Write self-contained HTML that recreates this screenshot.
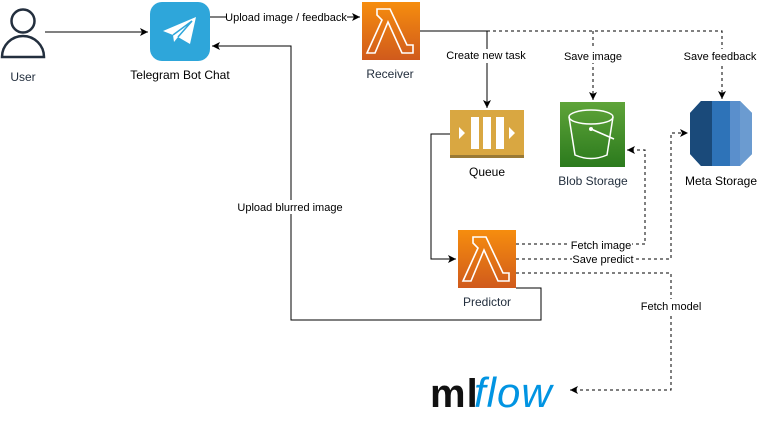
<!DOCTYPE html>
<html><head><meta charset="utf-8"><style>
html,body{margin:0;padding:0;background:#fff;}
svg{display:block;font-family:"Liberation Sans",sans-serif;}
</style></head><body>
<svg width="758" height="432" viewBox="0 0 758 432" xmlns="http://www.w3.org/2000/svg">
<defs>
<linearGradient id="lg" x1="0" y1="0" x2="0" y2="1"><stop offset="0" stop-color="#f68d0e"/><stop offset="1" stop-color="#d05a1c"/></linearGradient>
<linearGradient id="gg" x1="0" y1="0" x2="0" y2="1"><stop offset="0" stop-color="#5fa439"/><stop offset="1" stop-color="#2b7a1d"/></linearGradient>
<marker id="a" markerWidth="10" markerHeight="10" refX="8" refY="5" orient="auto" markerUnits="userSpaceOnUse"><path d="M0,1 L8,5 L0,9 L2,5 Z" fill="#000"/></marker>
<g id="lam">
<rect width="58" height="58" fill="url(#lg)"/>
<path d="M15,7 H28 L45,43 H51 V51 H40 L26,20 L13,51 H5 L20,18 L15,13 Z M15,7 V13" fill="none" stroke="#fff" stroke-width="1.6" stroke-linejoin="miter"/>
</g>
</defs>

<circle cx="23" cy="21" r="11.5" fill="none" stroke="#232f3e" stroke-width="2.5"/>
<path d="M2,57 A21,21 0 0 1 44,57 Z" fill="none" stroke="#232f3e" stroke-width="2.5"/>
<text x="23" y="81" font-size="12" fill="#232f3e" text-anchor="middle">User</text>

<rect x="150" y="2" width="60" height="59" rx="12" fill="#2ea6da"/>
<path d="M163,31 L196,17 L190,44 L178,37 L174,42 L173,35 Z" fill="#fff"/>
<path d="M173,35 L192,21 L178,37" fill="none" stroke="#2ea6da" stroke-width="1.5"/>
<text x="180" y="79" font-size="12" fill="#000" text-anchor="middle">Telegram Bot Chat</text>

<use href="#lam" x="362" y="2"/>
<text x="390" y="78" font-size="12" fill="#232f3e" text-anchor="middle">Receiver</text>

<rect x="450" y="110" width="74" height="48" fill="#d9a741"/>
<rect x="450" y="155" width="74" height="3" fill="#9a7a35"/>
<rect x="471" y="117" width="8" height="32" fill="#fff"/>
<rect x="483" y="117" width="8" height="32" fill="#fff"/>
<rect x="496" y="117" width="8" height="32" fill="#fff"/>
<path d="M459,127 L465,133 L459,139 Z M509,127 L515,133 L509,139 Z" fill="#fff"/>
<text x="487" y="176" font-size="12" fill="#000" text-anchor="middle">Queue</text>

<rect x="560" y="102" width="65" height="65" fill="url(#gg)"/>
<ellipse cx="591" cy="117" rx="22" ry="7" fill="none" stroke="#fff" stroke-width="1.5"/>
<path d="M569,117 L575,155 Q591,162 607,155 L613,117" fill="none" stroke="#fff" stroke-width="1.5"/>
<path d="M591,129 L614,139" fill="none" stroke="#fff" stroke-width="1.5"/>
<circle cx="591" cy="129" r="2" fill="#fff"/>
<text x="593" y="185" font-size="12" fill="#232f3e" text-anchor="middle">Blob Storage</text>

<path d="M701,101 L740,101 L752,113 L752,154 L740,166 L701,166 L690,154 L690,113 Z" fill="#2e73b8"/>
<path d="M701,101 L712,101 L712,166 L701,166 L690,154 L690,113 Z" fill="#1a4a7a"/>
<path d="M730,101 L740,101 L752,113 L752,154 L740,166 L730,166 Z" fill="#6b9bd0"/>
<path d="M730,101 L740,101 L740,166 L730,166 Z" fill="#5a8fcc"/>
<text x="721" y="185" font-size="12" fill="#000" text-anchor="middle">Meta Storage</text>

<use href="#lam" x="458" y="230"/>
<text x="487" y="306" font-size="12" fill="#232f3e" text-anchor="middle">Predictor</text>

<text x="430" y="407" font-size="40" font-weight="bold" fill="#111" letter-spacing="1">ml</text>
<text x="474" y="407" font-size="42" font-style="italic" fill="#0194e2" letter-spacing="1">flow</text>

<g fill="none" stroke="#000" stroke-width="1">
<path d="M45,32 H148" marker-end="url(#a)"/>
<path d="M210,17 H360" marker-end="url(#a)"/>
<path d="M420,31 H487 V108" marker-end="url(#a)"/>
<path d="M450,134 H431 V259 H456" marker-end="url(#a)"/>
<path d="M516,288 H541 V320 H291 V46 H212" marker-end="url(#a)"/>
</g>
<g fill="none" stroke="#000" stroke-width="1" stroke-dasharray="3,3">
<path d="M487,31 H722 V99" marker-end="url(#a)"/>
<path d="M593,31 V100" marker-end="url(#a)"/>
<path d="M516,244 H645 V150 H627" marker-end="url(#a)"/>
<path d="M516,259 H671 V133 H688" marker-end="url(#a)"/>
<path d="M516,273 H671 V390 H570" marker-end="url(#a)"/>
</g>

<g font-size="11" fill="#000" text-anchor="middle">
<rect x="226" y="10" width="121" height="14" fill="#fff"/>
<text x="286" y="21">Upload image / feedback</text>
<rect x="444" y="49" width="84" height="14" fill="#fff"/>
<text x="486" y="59">Create new task</text>
<rect x="563" y="49" width="60" height="14" fill="#fff"/>
<text x="593" y="60">Save image</text>
<rect x="682" y="49" width="76" height="14" fill="#fff"/>
<text x="720" y="60">Save feedback</text>
<rect x="237" y="200" width="108" height="14" fill="#fff"/>
<text x="290" y="211">Upload blurred image</text>
<rect x="570" y="238" width="62" height="13" fill="#fff"/>
<text x="601" y="249">Fetch image</text>
<rect x="572" y="252" width="62" height="13" fill="#fff"/>
<text x="603" y="263">Save predict</text>
<rect x="640" y="299" width="64" height="14" fill="#fff"/>
<text x="671" y="310">Fetch model</text>
</g>
</svg>
</body></html>
